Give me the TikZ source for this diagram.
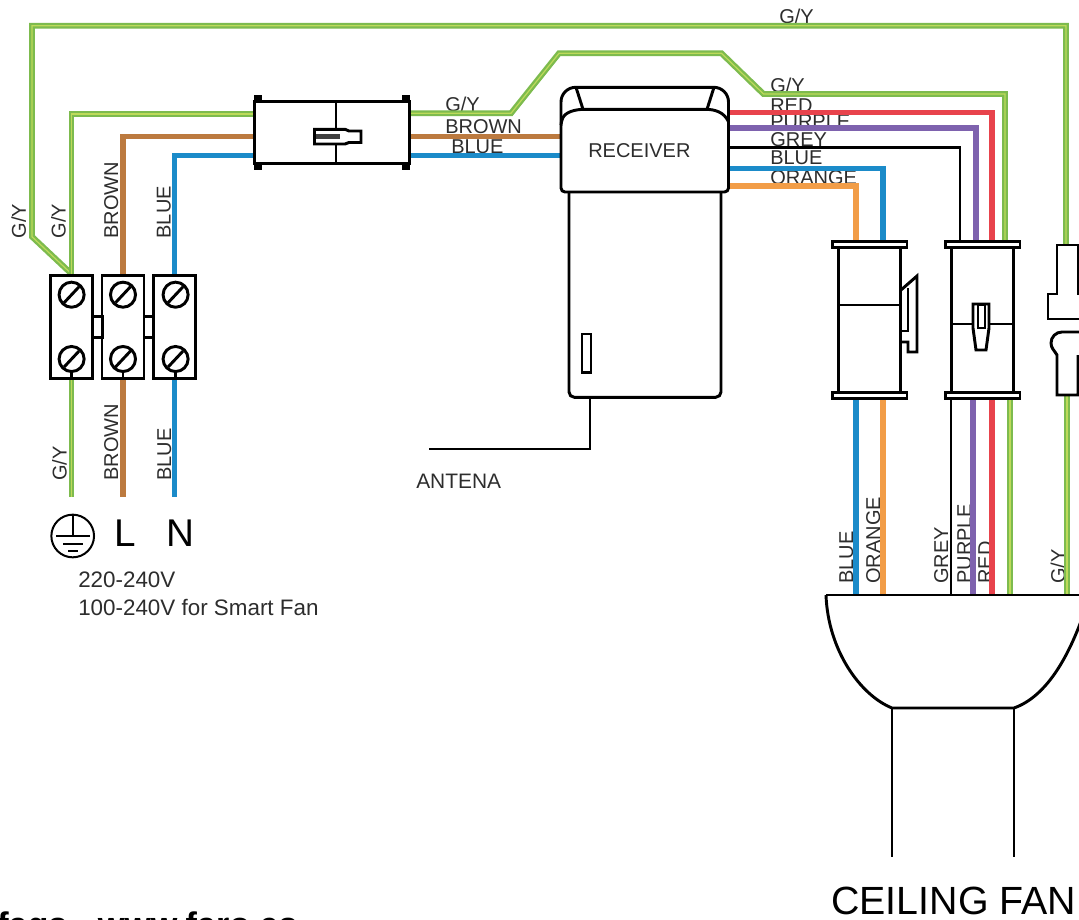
\documentclass[tikz,border=0pt]{standalone}
\usepackage{xcolor}
\usepackage{fontspec}
\setmainfont{Liberation Sans}
\definecolor{wiregreen}{RGB}{125, 187, 78}
\definecolor{wireyellow}{RGB}{190, 218, 90}
\definecolor{wirebrown}{RGB}{188, 122, 63}
\definecolor{wireblue}{RGB}{27, 139, 201}
\definecolor{wirered}{RGB}{232, 67, 76}
\definecolor{wirepurple}{RGB}{126, 98, 174}
\definecolor{wireorange}{RGB}{242, 157, 71}
\definecolor{labelgrey}{RGB}{45, 45, 45}
\tikzset{
    wirelabel/.style={text=labelgrey, inner sep=0pt, anchor=base west, font=\fontsize{15}{18}\selectfont},
    wirelabelup/.style={wirelabel, rotate=90},
    gywire/.style={draw=wiregreen, line width=4.4pt, line join=miter, postaction={draw=wireyellow, line width=0.9pt}},
    colorwire/.style={draw=#1, line width=3.8pt},
    blackpart/.style={draw=black, line width=2.2pt},
    termblock/.style={blackpart, fill=white, minimum width=31.5pt, minimum height=77.25pt, inner sep=0pt},
    plugbody/.style={blackpart, fill=white, minimum width=47pt, minimum height=115pt, inner sep=0pt},
}

\begin{document}
\begin{tikzpicture}[x=0.75pt, y=-0.75pt]
        \useasboundingbox (0,0) rectangle (1079,920);
        \clip (0,0) rectangle (1079,920);
        \fill[white] (0,0) rectangle (1079,920);
        % 各部件位置
        \coordinate (fanTop) at (826,595);
        \coordinate (groundBend) at (32,236.7);
        \coordinate (antEnd) at (429,449);
        \node[termblock, draw=none, fill=none] (tbE) at (71.5,326.8) {};
        \node[termblock, draw=none, fill=none] (tbL) at (123,326.8) {};
        \node[termblock, draw=none, fill=none] (tbN) at (174.5,326.8) {};
        \node[draw=none, inner sep=0pt, minimum width=115.5pt, minimum height=46.2pt] (plugMain) at (332,132.5) {};
        \node[draw=none, inner sep=0pt, minimum width=125.6pt, minimum height=78.5pt] (recvHead) at (644.75,139.7) {};
        \node[plugbody, draw=none, fill=none] (plugA) at (869.5,320) {};
        \node[plugbody, draw=none, fill=none] (plugB) at (982.5,320) {};
        % 文字标签
        \node[wirelabel] (lbTopGy) at (779,23.3) {G/Y};
        \node[wirelabel] (lbMainGy) at (445,111.7) {G/Y};
        \node[wirelabel] (lbMainBrown) at (445,134) {BROWN};
        \node[wirelabel] (lbMainBlue) at (451,153.3) {BLUE};
        \node[wirelabel] (lbRxGy) at (770,92.7) {G/Y};
        \node[wirelabel] (lbRxRed) at (770,112.6) {RED};
        \node[wirelabel] (lbRxPurple) at (770,129) {PURPLE};
        \node[wirelabel] (lbRxGrey) at (770,147) {GREY};
        \node[wirelabel] (lbRxBlue) at (770,165) {BLUE};
        \node[wirelabel] (lbRxOrange) at (770,184.3) {ORANGE};
        \node[wirelabelup] (lbUpGyA) at (26,238.7) {G/Y};
        \node[wirelabelup] (lbUpGyB) at (65.5,238.7) {G/Y};
        \node[wirelabelup] (lbUpBrown) at (118,238.7) {BROWN};
        \node[wirelabelup] (lbUpBlue) at (170.5,238.7) {BLUE};
        \node[wirelabelup] (lbLowGy) at (66.5,481) {G/Y};
        \node[wirelabelup] (lbLowBrown) at (118,481) {BROWN};
        \node[wirelabelup] (lbLowBlue) at (171,481) {BLUE};
        \node[wirelabelup] (lbFanBlue) at (853,584) {BLUE};
        \node[wirelabelup] (lbFanOrange) at (880,584) {ORANGE};
        \node[wirelabelup] (lbFanGrey) at (948,584) {GREY};
        \node[wirelabelup] (lbFanPurple) at (971,584) {PURPLE};
        \node[wirelabelup] (lbFanRed) at (992,584) {RED};
        \node[wirelabelup] (lbFanGy) at (1065,584) {G/Y};
        \node[wirelabel, font=\fontsize{15.7}{18}\selectfont] (lbAntena) at (416,488) {ANTENA};
        % 电源线
        \draw[gywire] (tbE.north) -- (groundBend) |- (1066,25.7) -- (1066,250);
        \draw[gywire] (tbE.north) |- (plugMain.west |- 0,114);
        \draw[colorwire=wirebrown] (tbL.north) |- (plugMain.west |- 0,136.7);
        \draw[colorwire=wireblue] (tbN.north) |- (plugMain.west |- 0,155.3);
        \draw[gywire] (plugMain.east |- 0,113.3) -- (511,113.3) -- (559,53.3) -- (721.5,53.3) -- (763.5,94) -- (1005,94) -- (1005,250);
        \draw[colorwire=wirebrown] (plugMain.east |- 0,136.7) -- (recvHead.west |- 0,136.7);
        \draw[colorwire=wireblue] (plugMain.east |- 0,155.3) -- (recvHead.west |- 0,155.3);
        \draw[gywire] (tbE.south) -- (tbE.south |- 0,497);
        \draw[colorwire=wirebrown] (tbL.south) -- (tbL.south |- 0,497);
        \draw[colorwire=wireblue] (tbN.south) -- (tbN.south |- 0,497);
        % 接收器输出线
        \draw[colorwire=wirered] (recvHead.east |- 0,112.7) -| (992,250);
        \draw[colorwire=wirepurple] (recvHead.east |- 0,128) -| (976,250);
        \draw[blackpart] (recvHead.east |- 0,147.7) -| (960,250);
        \draw[colorwire=wireblue] (recvHead.east |- 0,168.7) -| (883,250);
        \draw[colorwire=wireorange] (recvHead.east |- 0,186) -| (856,250);
        % 风扇侧导线
        \draw[colorwire=wireblue] (plugA.south -| 856,0) -- (fanTop -| 856,0);
        \draw[colorwire=wireorange] (plugA.south -| 883,0) -- (fanTop -| 883,0);
        \draw[blackpart] (plugB.south -| 951,0) -- (fanTop -| 951,0);
        \draw[colorwire=wirepurple] (plugB.south -| 973,0) -- (fanTop -| 973,0);
        \draw[colorwire=wirered] (plugB.south -| 992,0) -- (fanTop -| 992,0);
        \draw[gywire] (plugB.south -| 1010,0) -- (fanTop -| 1010,0);
        \draw[gywire] (1067,395) -- (fanTop -| 1067,0);
        % 接线端子
        \node[termblock] at (tbE) {};
        \node[termblock] at (tbL) {};
        \node[termblock] at (tbN) {};
        \draw[blackpart] (93,316.7) rectangle (103,337.7);
        \draw[blackpart] (144,316.7) rectangle (153,337.7);
        \foreach \sx in {71.6,123,175.6} {
            \foreach \sy in {294.7,359} {
                \draw[blackpart] (\sx,\sy) circle (9.4pt);
                \draw[blackpart] (\sx-7.5,\sy+8) -- (\sx+7.5,\sy-8);
            }
            \draw[blackpart] (\sx,371.5) -- (\sx,378.3);
        }
        % 中间插头
        \draw[blackpart, fill=white] (plugMain.south west) rectangle (plugMain.north east);
        \draw[blackpart, fill=black] (255,96.7) rectangle (261,101.7);
        \draw[blackpart, fill=black] (403,96.7) rectangle (409,101.7);
        \draw[blackpart, fill=black] (255,163.3) rectangle (261,168.3);
        \draw[blackpart, fill=black] (403,163.3) rectangle (409,168.3);
        \draw[blackpart] (336,101.7) -- (336,163.3);
        \draw[blackpart, fill=white] (314.5,129.3) -- (345,129.3) -- (349,131) -- (361,131) -- (361,142.5) -- (349,142.5) -- (345,144) -- (314.5,144) -- cycle;
        \fill[black!75] (316,134) rectangle (340,139);
        % 接收器
        \draw[blackpart, fill=white, rounded corners=4pt] (569,185) -- (569,397.3) -- (721,397.3) -- (721,185);
        \draw[blackpart, fill=white, rounded corners=11pt] (561,125) -- (561,87.3) -- (728.5,87.3) -- (728.5,125);
        \draw[blackpart] (576,87.3) -- (583,109.3);
        \draw[blackpart] (714,87.3) -- (707,109.3);
        \draw[blackpart, fill=white] (561,121.7) to[out=65, in=180] (585,109.3) -- (705,109.3) to[out=0, in=115] (728.5,121.7) [rounded corners=3pt] -- (728.5,192) -- (561,192) -- cycle;
        \node[wirelabel] (lbReceiver) at (588,157.3) {RECEIVER};
        \draw[blackpart] (582,334) rectangle (591,372.3);
        \draw[blackpart] (590,397.3) |- (antEnd);
        % 风扇插头
        \foreach \px in {plugA,plugB} {
            \node[plugbody] at (\px) {};
            \draw[blackpart, fill=white] ([xshift=-3.5pt]\px.north west) rectangle ([xshift=3.5pt,yshift=-4.5pt]\px.north east);
            \draw[blackpart, fill=white] ([xshift=-3.5pt,yshift=4.5pt]\px.south west) rectangle ([xshift=3.5pt]\px.south east);
        }
        \draw[blackpart] (838,305) -- (901,305);
        \draw[blackpart] (901,290) -- (917,276) -- (917,352) -- (908,352) -- (908,342) -- (901,342);
        \draw[blackpart] (901,331) -- (908,331) -- (908,288);
        \draw[blackpart] (952,324) -- (1013,324);
        \draw[blackpart, fill=white] (973,304) -- (989,304) -- (989,328) -- (986,350) -- (976,350) -- (973,328) -- cycle;
        \draw[line width=1.2pt] (978,305) rectangle (985,328);
        % 接地插头
        \draw[blackpart, fill=white] (1090,294) -- (1078,294) -- (1078,245) -- (1057,245) -- (1057,294) -- (1048,294) -- (1048,319) -- (1090,319);
        \draw[blackpart, fill=white] (1090,332) -- (1062,332) to[out=180, in=90] (1051,343) to[out=-90, in=120] (1057,355) -- (1057,395) -- (1078,395) -- (1078,355);
        % 风扇
        \draw[blackpart] (fanTop) -- (1090,595);
        \draw[blackpart] (fanTop) .. controls (828,650) and (860,695) .. (892,708) -- (1014,708) .. controls (1045,697) and (1068,660) .. (1085,610);
        \draw[blackpart] (892,708) -- (892,857);
        \draw[blackpart] (1014,708) -- (1014,857);
        \node[wirelabel, font=\fontsize{29.5}{32}\selectfont, text=black] (lbFan) at (831,914) {CEILING FAN};
        % 接地符号
        \node[circle, draw=black, line width=1.5pt, minimum size=32pt, inner sep=0pt] (earth) at (72.7,536) {};
        \draw[line width=1.5pt] (earth.north) -- (earth.center);
        \draw[line width=1.5pt] (56,536) -- (90,536);
        \draw[line width=1.5pt] (63,544) -- (83,544);
        \draw[line width=1.5pt] (68,551) -- (78,551);
        \node[wirelabel, font=\fontsize{29}{32}\selectfont, text=black] (lbL) at (114,546) {L};
        \node[wirelabel, font=\fontsize{29}{32}\selectfont, text=black] (lbN) at (166,546) {N};
        \node[wirelabel, font=\fontsize{16.8}{19}\selectfont] (lbVoltA) at (78,587) {220-240V};
        \node[wirelabel, font=\fontsize{16.8}{19}\selectfont] (lbVoltB) at (78,615) {100-240V for Smart Fan};
        \node[wirelabel, font=\fontsize{25.6}{28}\selectfont\bfseries, text=black] (lbFoot) at (-3,936) {faqs - www.faro.es};
    \end{tikzpicture}
\end{document}
